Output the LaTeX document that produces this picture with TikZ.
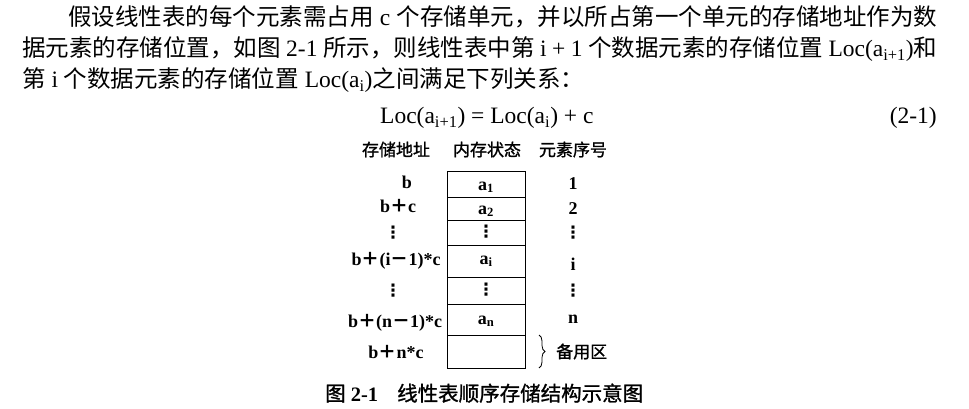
\documentclass[tikz,border=0pt]{standalone}
\usepackage{fontspec}
\setmainfont{Liberation Serif}
\newfontfamily\cjk{Noto Sans CJK SC}
\newfontfamily\cjkb[FakeBold=1.2]{Noto Sans CJK SC}
\newfontfamily\dvs{DejaVu Sans}
\usetikzlibrary{decorations.pathreplacing}
\newcommand\C[1]{{\cjk #1}}
\newcommand\CB[1]{{\cjkb #1}}
\newcommand\myvdots{{\dvs\bfseries ⋮}}
\tikzset{
  body/.style={inner sep=0pt, anchor=base west, font=\fontsize{23.5}{28}\selectfont},
  head/.style={inner sep=0pt, anchor=base, font=\fontsize{17}{20}\selectfont\cjkb},
  lab/.style={inner sep=0pt, anchor=base, font=\fontsize{18}{21}\selectfont\bfseries},
  val/.style={inner sep=0pt, anchor=base, font=\fontsize{18}{21}\selectfont\bfseries},
  vdotsnode/.style={inner sep=0pt, anchor=center, font=\fontsize{17}{20}\selectfont},
  cell/.style={draw, line width=1pt, minimum width=78pt, inner sep=0pt},
  captext/.style={inner sep=0pt, anchor=base west, font=\fontsize{20.5}{24}\selectfont},
}
\begin{document}
\begin{tikzpicture}[x=1pt,y=-1pt]
\useasboundingbox (0,0) rectangle (969,409);
% paragraph
\node[body] (l1) at (68,26) {\hbox to 869pt{\C{假设线性表的每个元素需占用} c \C{个存储单元，并以所占第一个单元的存储地址作为数}}};
\node[body] (l2) at (22,57) {\hbox to 915pt{\C{据元素的存储位置，如图} 2-1 \C{所示，则线性表中第} i + 1 \C{个数据元素的存储位置} Loc(a\textsubscript{i+1})\C{和}}};
\node[body] (l3) at (22,88) {\C{第} i \C{个数据元素的存储位置} Loc(a\textsubscript{i})\C{之间满足下列关系：}};
\node[body] (eq) at (380,124) {Loc(a\textsubscript{i+1}) = Loc(a\textsubscript{i}) + c};
\node[body, anchor=base east] (eqn) at (937,124) {(2-1)};
% headings
\node[head] (h1) at (396,156) {存储地址};
\node[head] (h2) at (487,156) {内存状态};
\node[head] (h3) at (573,156) {元素序号};
% cells
\node[cell, minimum height=26pt] (c1) at (486,184) {};
\node[cell, minimum height=23pt] (c2) at (486,208.5) {};
\node[cell, minimum height=25pt] (c3) at (486,232.5) {};
\node[cell, minimum height=32pt] (c4) at (486,261) {};
\node[cell, minimum height=27pt] (c5) at (486,290.5) {};
\node[cell, minimum height=31pt] (c6) at (486,319.5) {};
\node[cell, minimum height=33pt] (c7) at (486,351.5) {};
% cell contents
\node[val] (v1) at (486,190) {a\textsubscript{1}};
\node[val] (v2) at (486,214) {a\textsubscript{2}};
\node[vdotsnode] (v3) at (486,232) {\myvdots};
\node[val] (v4) at (486,264) {a\textsubscript{i}};
\node[vdotsnode] (v5) at (486,290) {\myvdots};
\node[val] (v6) at (486,324) {a\textsubscript{n}};
% addresses
\node[lab] (a1) at (407,188) {b};
\node[lab] (a2) at (398,212) {b\C{＋}c};
\node[vdotsnode] (a3) at (393,233) {\myvdots};
\node[lab] (a4) at (396,265) {b\C{＋}(i\C{－}1)*c};
\node[vdotsnode] (a5) at (393,291) {\myvdots};
\node[lab] (a6) at (395,327) {b\C{＋}(n\C{－}1)*c};
\node[lab] (a7) at (396,358) {b\C{＋}n*c};
% indices
\node[lab] (n1) at (573,189) {1};
\node[lab] (n2) at (573,214) {2};
\node[vdotsnode] (n3) at (573,233) {\myvdots};
\node[lab] (n4) at (573,270) {i};
\node[vdotsnode] (n5) at (573,291) {\myvdots};
\node[lab] (n6) at (573,323) {n};
% spare area brace
\coordinate (bt) at (539,335);
\coordinate (bb) at (539,368);
\draw[line width=0.8pt, decorate, decoration={brace, amplitude=6pt}] (bt) -- (bb);
\node[head, anchor=base west] (spare) at (556,358) {备用区};
% caption
\node[captext] (capn) at (325,401) {\CB{图} \textbf{2-1}};
\node[captext] (capt) at (397,401) {\CB{线性表顺序存储结构示意图}};
\end{tikzpicture}
\end{document}
